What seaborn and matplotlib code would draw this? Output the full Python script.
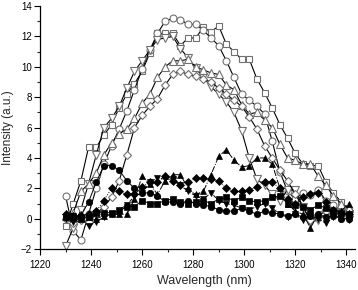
import numpy as np
import pandas as pd
import matplotlib
matplotlib.use("Agg")
import matplotlib.pyplot as plt
import seaborn as sns

# wavelength grid (nm)
wavelength = [1230 + 3 * i for i in range(38)]

# open symbols (high-intensity spectra)
open_square = [-0.5, 1.0, 2.5, 4.7, 4.7, 5.5, 6.2, 7.3, 8.2, 8.9, 9.7, 10.9, 12.2, 12.2, 12.2, 11.4, 11.9, 11.9,
               12.6, 12.3, 12.7, 11.5, 11.0, 10.5, 10.5, 9.2, 8.3, 7.3, 6.2, 5.3, 4.3, 3.6, 3.5, 3.5, 2.4, 1.7, 1.1, 0.6]
open_circle = [1.5, -0.8, -1.4, 0.3, 2.0, 3.6, 4.8, 5.9, 7.1, 8.5, 9.85, 11.1, 12.2, 13.0, 13.2, 13.1, 12.8, 12.8,
               12.4, 11.9, 11.4, 10.4, 9.3, 8.2, 7.8, 7.4, 6.9, 5.1, 3.1, 1.8, 1.3, 1.7, 1.55, 1.9, 1.2, 0.9, 0.6, 0.5]
open_tri_down = [-1.8, -0.6, 0.6, 2.3, 4.2, 6.0, 6.6, 7.4, 8.6, 9.7, 10.4, 11.1, 11.8, 11.9, 12.0, 11.2, 10.6, 9.9,
                 9.3, 8.7, 8.2, 7.7, 7.0, 5.8, 4.0, 2.6, 2.2, 1.6, 1.2, 1.9, 1.9, 0.8, -0.2, -0.1, 0.3, 0.5, 0.4, 0.3]
open_tri_up = [0.2, 0.4, 1.8, 2.3, 3.0, 4.2, 5.0, 5.6, 5.9, 6.6, 7.6, 8.2, 9.3, 10.0, 10.4, 10.4, 10.5, 10.0,
               9.8, 9.6, 9.5, 8.8, 8.5, 7.5, 6.9, 7.0, 6.5, 6.0, 4.9, 4.0, 3.85, 3.6, 3.6, 2.8, 2.2, 1.5, 1.0, 0.7]
open_diamond = [0.0, -0.3, -0.1, -0.2, 0.3, 0.8, 1.4, 2.5, 4.2, 6.0, 6.8, 7.4, 7.9, 8.8, 9.5, 9.7, 9.5, 9.4,
                9.2, 9.0, 8.6, 8.2, 7.8, 7.4, 6.7, 5.9, 4.8, 4.0, 3.2, 2.5, 1.6, 0.8, -0.1, 0.2, 0.5, 0.3, 0.3, 0.2]

# filled symbols (low-intensity spectra)
fill_circle = [0.1, 0.0, 0.2, 1.1, 2.4, 3.5, 3.5, 3.2, 2.5, 2.0, 1.7, 1.7, 1.5, 1.1, 1.1, 1.0, 1.2, 1.0,
               0.9, 0.8, 0.6, 0.5, 0.5, 0.7, 0.5, 0.3, 0.5, 0.4, 0.3, 0.2, 0.3, 0.1, 0.2, 0.3, 0.1, 0.2, 0.0, 0.0]
fill_square = [0.1, 0.2, 0.0, 0.1, 0.4, 0.4, 0.4, 0.5, 0.8, 0.8, 1.2, 1.0, 1.0, 1.2, 1.3, 1.1, 1.0, 1.1,
               1.2, 1.0, 1.3, 1.4, 1.2, 1.4, 1.2, 1.1, 1.2, 1.4, 1.5, 1.0, 0.9, 0.8, 0.6, 0.9, 0.7, 0.5, 0.4, 0.3]
fill_tri_down = [0.0, -0.2, 0.1, -0.5, -0.2, 0.1, 0.3, 0.6, 0.9, 1.5, 1.7, 2.4, 2.7, 2.6, 2.6, 2.2, 1.8, 1.5,
                 1.3, 1.7, 1.2, 1.0, 0.9, 0.7, 0.6, 0.8, 1.0, 0.7, 0.3, 0.1, 0.3, -0.1, 0.2, 0.0, -0.3, 0.1, 0.2, -0.1]
fill_tri_up = [0.2, 0.1, 0.3, 0.1, 0.0, 0.2, 0.3, 0.3, 0.3, 1.3, 2.8, 2.3, 1.6, 2.5, 2.9, 2.9, 2.0, 1.6,
               1.8, 2.9, 4.1, 4.55, 3.85, 3.4, 3.5, 4.0, 4.0, 3.6, 2.0, 1.0, 0.5, 0.3, -0.6, 0.3, 0.8, 0.5, 0.5, 1.0]
fill_diamond = [0.3, 0.2, 0.1, 0.3, 0.5, 1.2, 2.0, 1.8, 1.6, 1.6, 2.1, 2.4, 2.4, 2.8, 2.5, 2.2, 2.4, 2.65,
                2.65, 2.6, 2.5, 2.0, 1.8, 1.8, 1.9, 2.1, 2.4, 2.4, 2.0, 1.3, 1.0, 1.4, 1.6, 1.7, 1.1, 0.6, 0.4, 0.3]

sns.set_style("ticks")
plt.rcParams['font.family'] = ['Liberation Sans', 'DejaVu Sans']
plt.rcParams['xtick.direction'] = 'out'
plt.rcParams['ytick.direction'] = 'out'

fig, ax = plt.subplots(figsize=(3.58, 2.90), dpi=100)
fig.subplots_adjust(left=0.112, right=0.992, bottom=0.141, top=0.979)

edge = '#707070'
open_series = [(open_square, 's', 4.6), (open_circle, 'o', 5.0), (open_tri_down, 'v', 5.4),
               (open_tri_up, '^', 5.4), (open_diamond, 'D', 4.2)]
for vals, m, size in open_series:
    sns.lineplot(x=wavelength, y=vals, ax=ax, color='k', lw=0.8, marker=m, ms=size,
                 mfc='white', mec=edge, mew=0.8, estimator=None, sort=False)

fill_series = [(fill_circle, 'o', 4.6, '-'), (fill_square, 's', 4.2, '-'), (fill_tri_down, 'v', 5.0, '--'),
               (fill_tri_up, '^', 5.0, '-.'), (fill_diamond, 'D', 4.0, ':')]
for vals, m, size, ls in fill_series:
    sns.lineplot(x=wavelength, y=vals, ax=ax, color='k', lw=0.7, ls=ls, marker=m, ms=size,
                 mfc='k', mec='k', mew=0.5, estimator=None, sort=False)

ax.set_xlim(1220, 1343.5)
ax.set_ylim(-2, 14)
ax.set_xticks(np.arange(1220, 1341, 20))
ax.set_yticks(np.arange(-2, 15, 2))
ax.set_xticks(np.arange(1230, 1341, 20), minor=True)
ax.set_yticks(np.arange(-1, 14, 2), minor=True)
ax.tick_params(which='major', length=4, width=0.8, labelsize=7, pad=2, colors='k')
ax.tick_params(axis='x', which='major', pad=3.5)
ax.tick_params(which='minor', length=2, width=0.8)
ax.set_xlabel('Wavelength (nm)', fontsize=9)
ax.xaxis.set_label_coords(0.52, -0.105)
ax.set_ylabel('Intensity (a.u.)', fontsize=8.5)
ax.yaxis.set_label_coords(-0.082, 0.5)
for s in ['left', 'bottom']:
    ax.spines[s].set_linewidth(0.9)
    ax.spines[s].set_color('k')
sns.despine(ax=ax)

fig.savefig('out.png', dpi=100)
